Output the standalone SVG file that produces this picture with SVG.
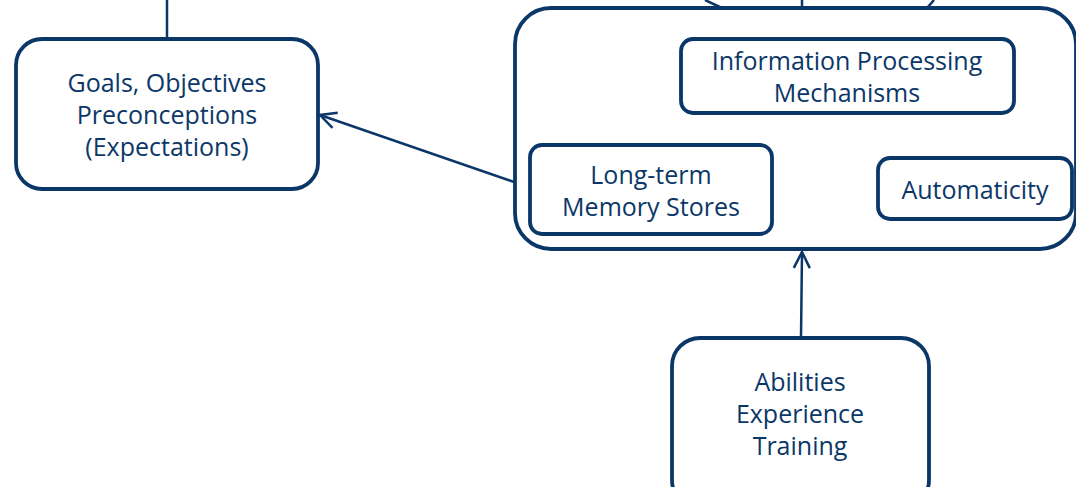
<svg xmlns="http://www.w3.org/2000/svg" width="1076" height="487" viewBox="0 0 1076 487">
  <style>
    .box { fill: #ffffff; stroke: #0b3768; stroke-width: 3.8; }
    .edge { fill: none; stroke: #0b3768; stroke-width: 2.5; }
    .label { font-family: "Open Sans", "Noto Sans", sans-serif; font-size: 25px; fill: #0b3768; text-anchor: middle; }
  </style>
  <defs>
    <marker id="open-arrow" viewBox="0 0 20 20" refX="18" refY="10" markerWidth="20" markerHeight="20" markerUnits="userSpaceOnUse" orient="auto">
      <path d="M2,2 L18,10 L2,18" fill="none" stroke="#0b3768" stroke-width="2.5"/>
    </marker>
  </defs>

  <rect width="1076" height="487" fill="#ffffff"/>

  <!-- connectors -->
  <g id="connectors">
    <line class="edge" x1="167" y1="0" x2="167" y2="38"/>
    <line class="edge" x1="705" y1="0" x2="722" y2="8"/>
    <line class="edge" x1="802" y1="0" x2="802" y2="8"/>
    <line class="edge" x1="934" y1="0" x2="927" y2="8"/>
    <line class="edge" x1="514" y1="182" x2="320" y2="115" marker-end="url(#open-arrow)"/>
    <line class="edge" x1="801" y1="338" x2="802" y2="252" marker-end="url(#open-arrow)"/>
  </g>

  <!-- left node -->
  <g id="goals">
    <rect class="box" x="16" y="39" width="302" height="150" rx="26"/>
    <text class="label" x="167" y="92">Goals, Objectives</text>
    <text class="label" x="167" y="124">Preconceptions</text>
    <text class="label" x="167" y="156">(Expectations)</text>
  </g>

  <!-- container with inner nodes -->
  <g id="cognition">
    <rect class="box" x="515" y="8" width="561" height="241" rx="36"/>
  </g>

  <g id="info-processing">
    <rect class="box" x="681" y="39" width="333" height="74" rx="12"/>
    <text class="label" x="847" y="70">Information Processing</text>
    <text class="label" x="847" y="102">Mechanisms</text>
  </g>

  <g id="memory">
    <rect class="box" x="530" y="145" width="242" height="89" rx="12"/>
    <text class="label" x="651" y="184">Long-term</text>
    <text class="label" x="651" y="216">Memory Stores</text>
  </g>

  <g id="automaticity">
    <rect class="box" x="878" y="158" width="194" height="61" rx="12"/>
    <text class="label" x="975" y="199">Automaticity</text>
  </g>

  <!-- bottom node -->
  <g id="abilities">
    <rect class="box" x="672" y="338" width="257" height="170" rx="28"/>
    <text class="label" x="800" y="391">Abilities</text>
    <text class="label" x="800" y="423">Experience</text>
    <text class="label" x="800" y="455">Training</text>
  </g>
</svg>
